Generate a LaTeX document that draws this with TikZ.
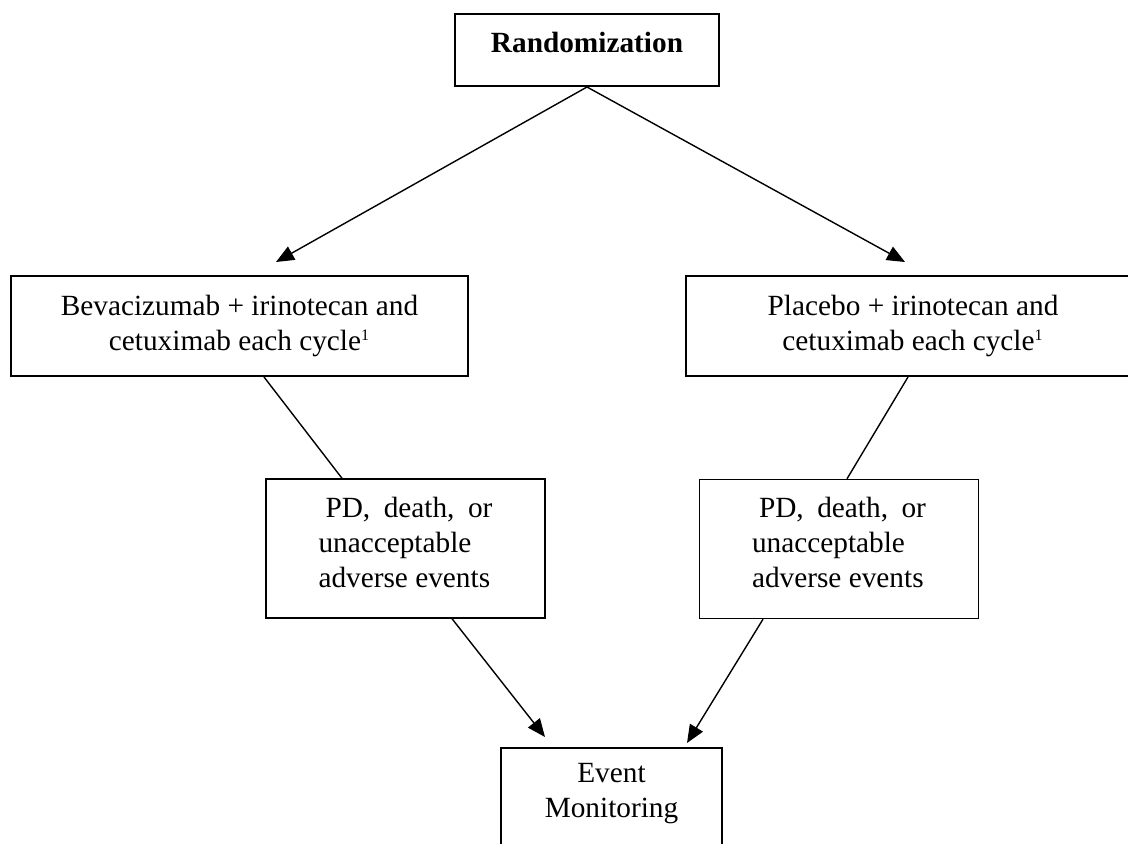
\documentclass[tikz,border=0pt]{standalone}
\usepackage{fontspec}
\setmainfont{Liberation Serif}
\usetikzlibrary{arrows.meta,positioning}

\begin{document}
\begin{tikzpicture}[x=0.5pt,y=-0.5pt,>={Triangle[length=9pt,width=7.5pt]},line width=0.7pt,
  font=\fontsize{14.65pt}{17.5pt}\selectfont]
\tikzstyle{armbox}=[draw,line width=1pt,inner sep=0pt,align=center]
\tikzstyle{stopbox}=[draw,line width=0.7pt,inner sep=0pt,minimum width=139.5pt,minimum height=69.5pt]
\newcommand{\cyc}{\textsuperscript{\fontsize{8pt}{8pt}\selectfont 1}}
\useasboundingbox (0,0) rectangle (1128,844);
\node[armbox,minimum width=132pt,minimum height=36pt,text depth=8pt] (rand) at (587,50) {\textbf{Randomization}};
\node[armbox,minimum width=228.5pt,minimum height=50pt] (bev) at (239.5,326) {Bevacizumab + irinotecan and\\cetuximab each cycle\cyc};
\node[armbox,minimum width=227pt,minimum height=50pt] (pla) at (913,326) {Placebo + irinotecan and\\cetuximab each cycle\cyc};
\node[stopbox] (pdl) at (405.5,548.5) {\parbox[c][51.5pt][t]{87pt}{\hspace*{3.5pt}PD,\hfill death,\hfill or\\unacceptable\\adverse events}};
\node[stopbox] (pdr) at (839,549) {\parbox[c][51.5pt][t]{87pt}{\hspace*{3.5pt}PD,\hfill death,\hfill or\\unacceptable\\adverse events}};
\node[armbox,anchor=north,inner ysep=7.8pt,minimum width=110.5pt] (evt) at (611.5,747) {\parbox[c][60pt][t]{100pt}{\centering Event\\Monitoring}};
\coordinate (bevin) at (276,262);
\coordinate (plain) at (905,262);
\coordinate (evtl) at (545,737);
\coordinate (evtr) at (687,743);
\path[->] (rand.south) edge (bevin)
                       edge (plain);
\draw ([xshift=12.25pt]bev.south) -- ([xshift=-31.75pt]pdl.north);
\draw ([xshift=-2.5pt]pla.south) -- ([xshift=4pt]pdr.north);
\path[->] ([xshift=23.25pt]pdl.south) edge (evtl)
          ([xshift=-38pt]pdr.south) edge (evtr);
\end{tikzpicture}
\end{document}
